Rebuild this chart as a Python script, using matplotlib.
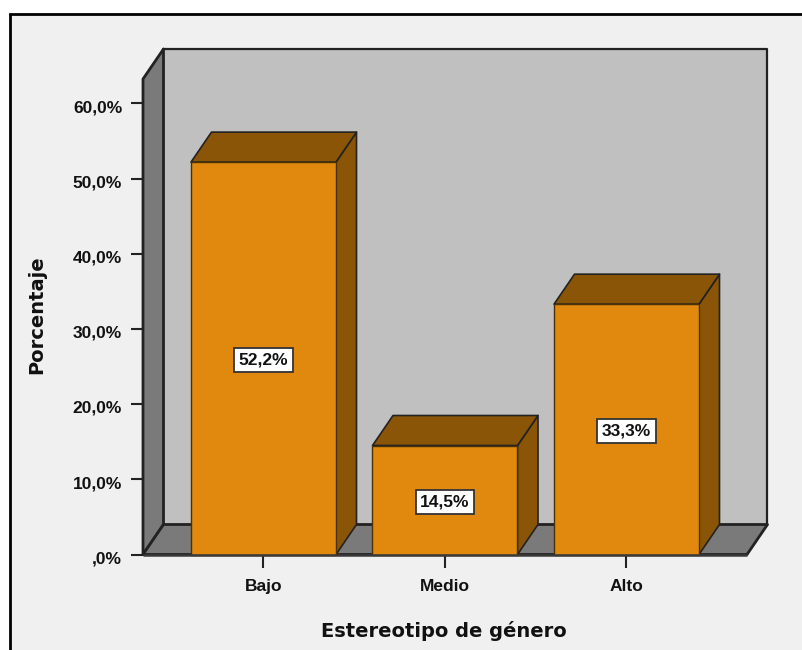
import matplotlib
matplotlib.use("Agg")
import matplotlib.pyplot as plt
from matplotlib.patches import Polygon, Rectangle
from matplotlib.transforms import ScaledTranslation

categories = ["Bajo", "Medio", "Alto"]
values = [52.2, 14.5, 33.3]
value_labels = ["52,2%", "14,5%", "33,3%"]
y_ticks = [0, 10, 20, 30, 40, 50, 60]
y_tick_labels = [",0%", "10,0%", "20,0%", "30,0%", "40,0%", "50,0%", "60,0%"]

# ===== layout in pixels of the 803x650 picture =====
W, H = 803, 650
AX_LEFT, AX_RIGHT = 143, 747
AX_BOTTOM, AX_TOP = 554.5, 79
PX_PER_CAT = 181.5
PX_PER_PCT = 7.517
CAT0_PX = 263.5

ORANGE = "#e0890e"
BROWN = "#8a5507"
WALL = "#c0c0c0"
DARK = "#7a7a7a"
PANEL = "#f0f0f0"
EDGE = "#222222"

plt.rcParams["font.family"] = ["Liberation Sans", "DejaVu Sans"]

fig = plt.figure(figsize=(W / 100, H / 100), dpi=100, facecolor="white")

# panel with the black frame, cut by the right and bottom of the picture
fig.add_artist(Rectangle((10 / W, -0.1), 1.0, 1.1 - 14 / H,
                         transform=fig.transFigure, facecolor=PANEL,
                         edgecolor="black", linewidth=2, zorder=-1))

ax = fig.add_axes([AX_LEFT / W, 1 - AX_BOTTOM / H,
                   (AX_RIGHT - AX_LEFT) / W, (AX_BOTTOM - AX_TOP) / H])
ax.set_xlim((AX_LEFT - CAT0_PX) / PX_PER_CAT, (AX_RIGHT - CAT0_PX) / PX_PER_CAT)
ax.set_ylim(0, (AX_BOTTOM - AX_TOP) / PX_PER_PCT)
ax.patch.set_visible(False)
for s in ax.spines.values():
    s.set_visible(False)

# depth of the 3D effect, in data units
dx = 20.5 / PX_PER_CAT
dy = 30 / PX_PER_PCT
x0, x1 = ax.get_xlim()
top = ax.get_ylim()[1]
half = 145 / PX_PER_CAT / 2


def face(pts, color, z, lw=1.6, ec=EDGE):
    ax.add_patch(Polygon(pts, closed=True, facecolor=color, edgecolor=ec,
                         linewidth=lw, joinstyle="round", zorder=z, clip_on=False))


face([(x0 + dx, dy), (x1 + dx, dy), (x1 + dx, top + dy), (x0 + dx, top + dy)], WALL, 1)
face([(x0, 0), (x0 + dx, dy), (x0 + dx, top + dy), (x0, top)], DARK, 1.1, lw=2)
face([(x0, 0), (x1, 0), (x1 + dx, dy), (x0 + dx, dy)], DARK, 1.2, lw=2)

for i, v in enumerate(values):
    l, r = i - half, i + half
    face([(r, 0), (r + dx, dy), (r + dx, v + dy), (r, v)], BROWN, 2, lw=1.2)
    face([(l, v), (r, v), (r + dx, v + dy), (l + dx, v + dy)], BROWN, 2, lw=1.2)
    face([(l, 0), (r, 0), (r, v), (l, v)], ORANGE, 2.1, lw=1.0, ec="#4a3208")
    ax.annotate(value_labels[i], (i, v / 2), xytext=(0, -1.5),
                textcoords="offset points", ha="center", va="center",
                fontsize=12.5, fontweight="bold", color="#111111", zorder=3,
                bbox=dict(boxstyle="square,pad=0.26", facecolor="white",
                          edgecolor="#333333", linewidth=1.3))

ax.plot([x0, x1], [0, 0], color="#3a3a3a", lw=1.8, zorder=2.2, clip_on=False,
        solid_capstyle="butt")

ax.set_xticks(range(len(categories)))
ax.set_xticklabels(categories, fontsize=12.5, fontweight="bold", color="#111111")
ax.set_yticks(y_ticks)
ax.set_yticklabels(y_tick_labels, fontsize=12.5, fontweight="bold", color="#111111")
ax.tick_params(axis="x", length=9, width=1.5, color=EDGE, pad=8.5)
ax.tick_params(axis="y", length=9, width=1.5, color=EDGE, pad=6)

# the value labels of this chart sit a little below their ticks
for lab in ax.get_yticklabels():
    lab.set_transform(lab.get_transform() + ScaledTranslation(0, -2 / 72, fig.dpi_scale_trans))

fig.text(444 / W, 1 - 631 / H, "Estereotipo de género", ha="center", va="center",
         fontsize=14, fontweight="bold", color="#111111", family="DejaVu Sans")
fig.text(37 / W, 1 - 315 / H, "Porcentaje", ha="center", va="center", rotation=90,
         fontsize=14, fontweight="bold", color="#111111", family="DejaVu Sans")

fig.savefig("out.png", dpi=100, facecolor="white")
